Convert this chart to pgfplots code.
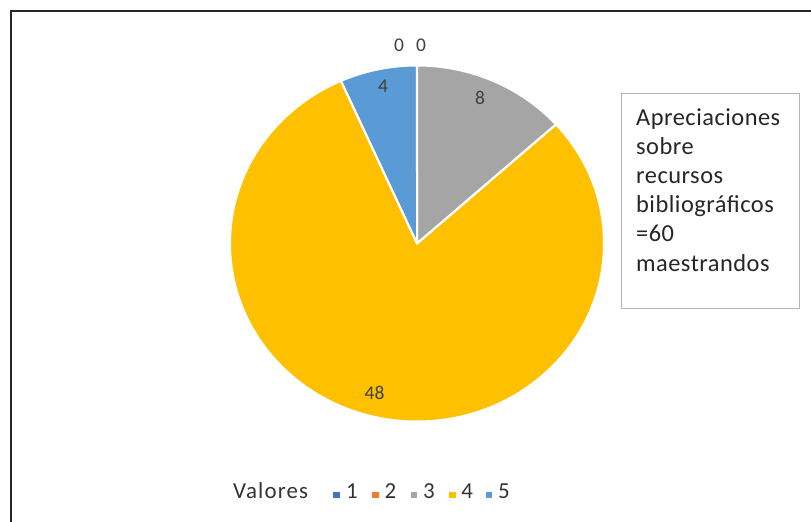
\documentclass[border=0pt]{standalone}
\usepackage{pgfplots}
\pgfplotsset{compat=1.18}
\usepackage{pgfplotstable}
\usepackage{fontspec}
\setmainfont{Carlito}
\newfontfamily\boxfont{Carlito}[LetterSpace=2]
\newfontfamily\legfont{Carlito}[LetterSpace=5]

\definecolor{c1}{HTML}{4472C4}
\definecolor{c2}{HTML}{ED7D31}
\definecolor{c3}{HTML}{A5A5A5}
\definecolor{c4}{HTML}{FFC000}
\definecolor{c5}{HTML}{5B9BD5}
\definecolor{lbl}{HTML}{404040}
\definecolor{boxgray}{HTML}{B4B4B4}

\pgfplotstableread{
value count
1 0
2 0
3 8
4 48
5 4
}\piedata

\begin{document}
\begin{tikzpicture}
\path[use as bounding box] (0,0) rectangle (811bp,522bp);
\begin{axis}[at={(0,0)}, anchor=south west, scale only axis,
  width=811bp, height=522bp, xmin=0, xmax=811, ymin=0, ymax=522,
  y dir=reverse, hide axis, clip=false]
% chart frame
\draw[black!85, line width=1.5bp] (axis cs:11,522) -- (axis cs:11,11) -- (axis cs:811,11);
% pie from table
\pgfplotstablegetrowsof{\piedata}
\pgfmathtruncatemacro{\nrows}{\pgfplotsretval-1}
\def\total{0}
\pgfplotsforeachungrouped \i in {0,...,\nrows}{%
  \pgfplotstablegetelem{\i}{count}\of\piedata
  \pgfmathsetmacro{\total}{\total+\pgfplotsretval}%
}
\def\curang{90}
\pgfplotsforeachungrouped \i in {0,...,\nrows}{%
  \pgfplotstablegetelem{\i}{count}\of\piedata
  \pgfmathsetmacro{\endang}{\curang-\pgfplotsretval/\total*360}%
  \pgfmathtruncatemacro{\colidx}{\i+1}%
  \edef\cmd{\noexpand\fill[c\colidx] (axis cs:417,243.5) -- ++(\curang:187bp and 178bp) arc[start angle=\curang, end angle=\endang, x radius=187bp, y radius=178bp] -- cycle;}%
  \cmd
  \let\curang\endang
}
\def\curang{90}
\pgfplotsforeachungrouped \i in {0,...,\nrows}{%
  \pgfplotstablegetelem{\i}{count}\of\piedata
  \pgfmathsetmacro{\endang}{\curang-\pgfplotsretval/\total*360}%
  \edef\cmd{\noexpand\draw[white, line width=2bp, line join=round] (axis cs:417,243.5) -- ++(\curang:187bp and 178bp) arc[start angle=\curang, end angle=\endang, x radius=187bp, y radius=178bp] -- cycle;}%
  \cmd
  \let\curang\endang
}
% data labels
\begin{scope}[every node/.style={font=\fontsize{19.5}{22}\selectfont, text=lbl, inner sep=0pt}]
\node at (axis cs:399,45.5) {0};
\node at (axis cs:421,45.5) {0};
\node at (axis cs:480,97.5) {8};
\node at (axis cs:374.5,393) {48};
\node at (axis cs:383,86.5) {4};
\end{scope}
% text box
\draw[boxgray, line width=1bp] (axis cs:621,94) rectangle (axis cs:799,308);
\begin{scope}[every node/.style={font=\boxfont\fontsize{24.5}{29}\selectfont, text=black!85, inner sep=0pt, anchor=base west}]
\node at (axis cs:636,125) {Apreciaciones};
\node at (axis cs:636,154.2) {sobre};
\node at (axis cs:636,183.4) {recursos};
\node at (axis cs:636,212.6) {bibliográficos};
\node at (axis cs:636,241.8) {=60};
\node at (axis cs:636,271) {maestrandos};
\end{scope}
% legend
\begin{scope}[every node/.style={font=\legfont\fontsize{23}{26}\selectfont, text=black!80, inner sep=0pt, anchor=base west}]
\node at (axis cs:233,498) {Valores};
\fill[c1] (axis cs:333.3,491.5) rectangle (axis cs:339.5,497.5);
\node at (axis cs:346,498) {1};
\fill[c2] (axis cs:372.3,491.5) rectangle (axis cs:378.5,497.5);
\node at (axis cs:384.5,498) {2};
\fill[c3] (axis cs:410.7,491.5) rectangle (axis cs:416.9,497.5);
\node at (axis cs:422.8,498) {3};
\fill[c4] (axis cs:449.3,491.5) rectangle (axis cs:455.5,497.5);
\node at (axis cs:461.2,498) {4};
\fill[c5] (axis cs:486,491.5) rectangle (axis cs:492.2,497.5);
\node at (axis cs:497.8,498) {5};
\end{scope}
\end{axis}
\end{tikzpicture}
\end{document}
